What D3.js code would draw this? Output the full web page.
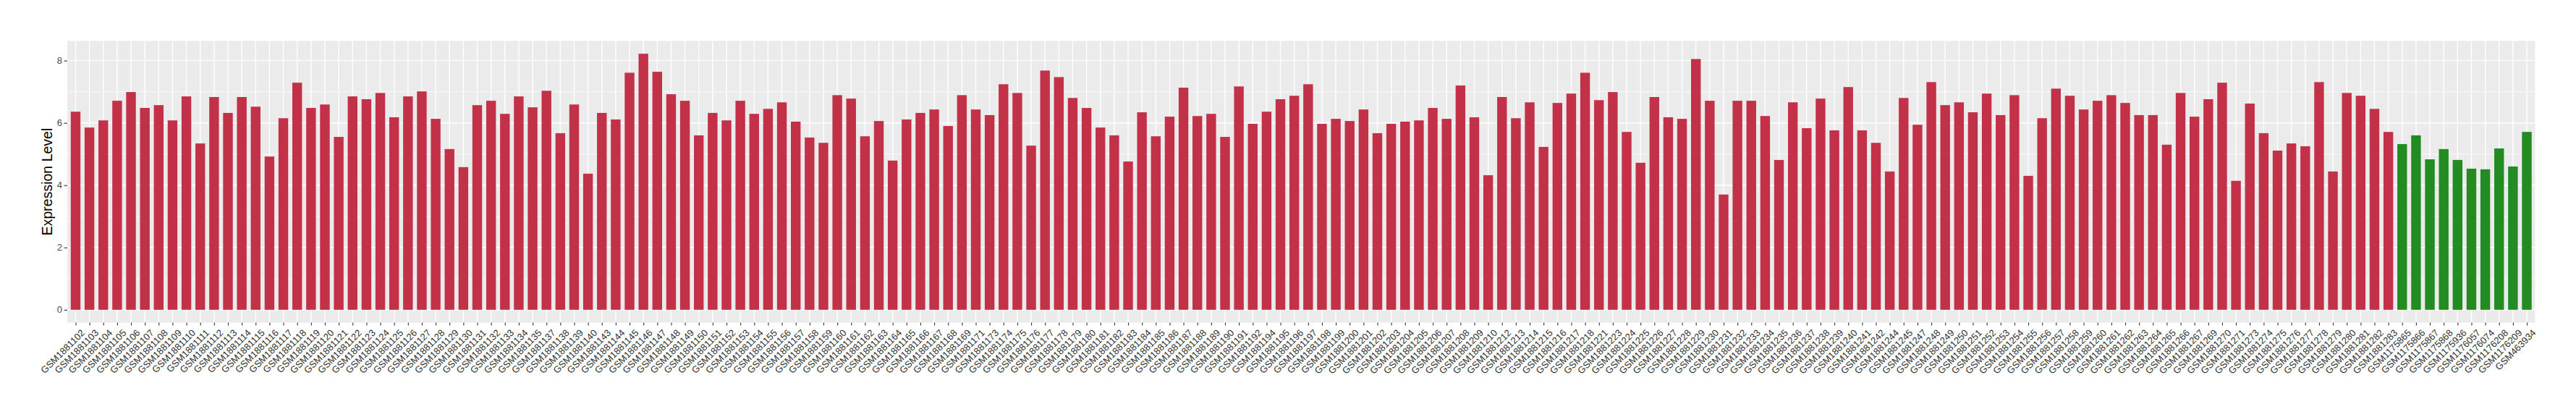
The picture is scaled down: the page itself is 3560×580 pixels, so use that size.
<!DOCTYPE html>
<html>
<head>
<meta charset="utf-8">
<script src="https://cdn.jsdelivr.net/npm/d3@7/dist/d3.min.js"></script>
<style>
  html, body { margin: 0; padding: 0; background: #ffffff; }
  svg { display: block; }
  text { font-family: "Liberation Sans", Arial, Helvetica, sans-serif; }
</style>
</head>
<body>
<svg id="chart" width="3560" height="580"></svg>
<script>
// ---------- data ----------
const redSamples = [
  "GSM1881102","GSM1881103","GSM1881104","GSM1881105","GSM1881106","GSM1881107","GSM1881108","GSM1881109","GSM1881110","GSM1881111",
  "GSM1881112","GSM1881113","GSM1881114","GSM1881115","GSM1881116","GSM1881117","GSM1881118","GSM1881119","GSM1881120","GSM1881121",
  "GSM1881122","GSM1881123","GSM1881124","GSM1881125","GSM1881126","GSM1881127","GSM1881128","GSM1881129","GSM1881130","GSM1881131",
  "GSM1881132","GSM1881133","GSM1881134","GSM1881135","GSM1881137","GSM1881138","GSM1881139","GSM1881140","GSM1881143","GSM1881144",
  "GSM1881145","GSM1881146","GSM1881147","GSM1881148","GSM1881149","GSM1881150","GSM1881151","GSM1881152","GSM1881153","GSM1881154",
  "GSM1881155","GSM1881156","GSM1881157","GSM1881158","GSM1881159","GSM1881160","GSM1881161","GSM1881162","GSM1881163","GSM1881164",
  "GSM1881165","GSM1881166","GSM1881167","GSM1881168","GSM1881169","GSM1881171","GSM1881173","GSM1881174","GSM1881175","GSM1881176",
  "GSM1881177","GSM1881178","GSM1881179","GSM1881180","GSM1881181","GSM1881182","GSM1881183","GSM1881184","GSM1881185","GSM1881186",
  "GSM1881187","GSM1881188","GSM1881189","GSM1881190","GSM1881191","GSM1881192","GSM1881194","GSM1881195","GSM1881196","GSM1881197",
  "GSM1881198","GSM1881199","GSM1881200","GSM1881201","GSM1881202","GSM1881203","GSM1881204","GSM1881205","GSM1881206","GSM1881207",
  "GSM1881208","GSM1881209","GSM1881210","GSM1881212","GSM1881213","GSM1881214","GSM1881215","GSM1881216","GSM1881217","GSM1881218",
  "GSM1881221","GSM1881223","GSM1881224","GSM1881225","GSM1881226","GSM1881227","GSM1881228","GSM1881229","GSM1881230","GSM1881231",
  "GSM1881232","GSM1881233","GSM1881234","GSM1881235","GSM1881236","GSM1881237","GSM1881238","GSM1881239","GSM1881240","GSM1881241",
  "GSM1881242","GSM1881244","GSM1881245","GSM1881247","GSM1881248","GSM1881249","GSM1881250","GSM1881251","GSM1881252","GSM1881253",
  "GSM1881254","GSM1881255","GSM1881256","GSM1881257","GSM1881258","GSM1881259","GSM1881260","GSM1881261","GSM1881262","GSM1881263",
  "GSM1881264","GSM1881265","GSM1881266","GSM1881267","GSM1881269","GSM1881270","GSM1881271","GSM1881273","GSM1881274","GSM1881275",
  "GSM1881276","GSM1881277","GSM1881278","GSM1881279","GSM1881280","GSM1881281","GSM1881282","GSM1881283"
];
const redValues = [
  6.36, 5.85, 6.08, 6.71, 6.99, 6.48, 6.57, 6.08, 6.85, 5.34,
  6.83, 6.32, 6.83, 6.52, 4.92, 6.15, 7.29, 6.48, 6.59, 5.55,
  6.85, 6.76, 6.96, 6.18, 6.85, 7.01, 6.13, 5.16, 4.58, 6.57,
  6.71, 6.29, 6.85, 6.50, 7.03, 5.67, 6.59, 4.37, 6.32, 6.11,
  7.61, 8.22, 7.64, 6.92, 6.71,
  5.60, 6.32, 6.08, 6.71, 6.29, 6.45, 6.66, 6.04, 5.53, 5.36,
  6.89, 6.78, 5.57, 6.06, 4.79, 6.11, 6.32, 6.43, 5.90, 6.89,
  6.43, 6.25, 7.24, 6.96, 5.27, 7.68, 7.47, 6.80, 6.48, 5.85,
  5.60, 4.76, 6.34, 5.57, 6.20, 7.13, 6.22, 6.29, 5.55, 7.17,
  5.97, 6.36, 6.76, 6.87,
  7.24, 5.97, 6.13, 6.06, 6.43, 5.67, 5.97, 6.04, 6.08, 6.48,
  6.13, 7.20, 6.18, 4.32, 6.83, 6.15, 6.66, 5.23, 6.64, 6.94,
  7.61, 6.73, 6.99, 5.71, 4.72, 6.83, 6.18, 6.13, 8.05, 6.71,
  3.70, 6.71, 6.71, 6.22, 4.81, 6.66, 5.83, 6.78, 5.76, 7.15,
  5.76, 5.36, 4.44, 6.80,
  5.94, 7.31, 6.57, 6.66, 6.34, 6.94, 6.25, 6.89, 4.30, 6.15,
  7.10, 6.87, 6.43, 6.71, 6.89, 6.64, 6.25, 6.25, 5.30, 6.96,
  6.20, 6.76, 7.29, 4.14, 6.62, 5.67, 5.11, 5.34, 5.25, 7.31,
  4.44, 6.96, 6.87, 6.45, 5.71
];
const greenSamples = [
  "GSM1175865","GSM1175866","GSM1175867","GSM1175868","GSM1175936",
  "GSM1176057","GSM1176074","GSM1176208","GSM1176209","GSM463934"
];
const greenValues = [5.32, 5.60, 4.83, 5.16, 4.81, 4.53, 4.51, 5.18, 4.60, 5.71];
const yTicks = [0, 2, 4, 6, 8];
const yMinorTicks = [1, 3, 5, 7];
const groupColors = { red: "#C33149", green: "#228B22" };

// ---------- build table ----------
const rows = redSamples.map((s, i) => ({ sample: s, value: redValues[i], group: "red" }))
  .concat(greenSamples.map((s, i) => ({ sample: s, value: greenValues[i], group: "green" })));

// ---------- layout ----------
const panel = { left: 93, right: 3503.5, top: 56.5, bottom: 445.5 };
const svg = d3.select("#chart");
svg.append("rect").attr("width", 3560).attr("height", 580).attr("fill", "#ffffff");

const x = d3.scalePoint()
  .domain(rows.map(d => d.sample))
  .range([panel.left, panel.right])
  .padding(0.6);
const step = x.step();
const barW = step * 0.7;

const maxV = d3.max(rows, d => d.value);
const ext = maxV * 0.05;
const y = d3.scaleLinear()
  .domain([0 - ext, maxV + ext])
  .range([panel.bottom, panel.top]);

// panel background
svg.append("rect")
  .attr("x", panel.left).attr("y", panel.top)
  .attr("width", panel.right - panel.left).attr("height", panel.bottom - panel.top)
  .attr("fill", "#EBEBEB");

// grid
const grid = svg.append("g");
grid.selectAll("line.minor").data(yMinorTicks).enter().append("line")
  .attr("x1", panel.left).attr("x2", panel.right)
  .attr("y1", d => y(d)).attr("y2", d => y(d))
  .attr("stroke", "#ffffff").attr("stroke-width", 0.7);
grid.selectAll("line.majory").data(yTicks).enter().append("line")
  .attr("x1", panel.left).attr("x2", panel.right)
  .attr("y1", d => y(d)).attr("y2", d => y(d))
  .attr("stroke", "#ffffff").attr("stroke-width", 1.4);
grid.selectAll("line.majorx").data(rows).enter().append("line")
  .attr("x1", d => x(d.sample)).attr("x2", d => x(d.sample))
  .attr("y1", panel.top).attr("y2", panel.bottom)
  .attr("stroke", "#ffffff").attr("stroke-width", 1.4);

// bars
svg.append("g").selectAll("rect").data(rows).enter().append("rect")
  .attr("x", d => x(d.sample) - barW / 2)
  .attr("width", barW)
  .attr("y", d => y(d.value))
  .attr("height", d => y(0) - y(d.value))
  .attr("fill", d => groupColors[d.group]);

// y axis
const yAxis = d3.axisLeft(y).tickValues(yTicks).tickSize(4.5).tickPadding(2.5);
const gy = svg.append("g").attr("transform", `translate(${panel.left},0)`).call(yAxis);
gy.select(".domain").remove();
gy.selectAll(".tick line").attr("stroke", "#333333").attr("stroke-width", 1.1);
gy.selectAll(".tick text").attr("fill", "#4D4D4D").style("font-size", "13px")
  .style("font-family", "'Liberation Sans', Arial, sans-serif");

// x axis
const xAxis = d3.axisBottom(x).tickSize(4).tickPadding(0);
const gx = svg.append("g").attr("transform", `translate(0,${panel.bottom})`).call(xAxis);
gx.select(".domain").remove();
gx.selectAll(".tick line").attr("stroke", "#333333").attr("stroke-width", 1.1);
gx.selectAll(".tick text")
  .attr("fill", "#333333")
  .style("font-size", "13px")
  .style("font-family", "'Liberation Sans', Arial, sans-serif")
  .attr("text-anchor", "end")
  .attr("y", 0)
  .attr("dy", "0.75em")
  .attr("transform", "translate(6,8) rotate(-45)");

// y title
svg.append("text")
  .attr("transform", `translate(65,${(panel.top + panel.bottom) / 2}) rotate(-90)`)
  .attr("text-anchor", "middle")
  .attr("dominant-baseline", "central")
  .attr("fill", "#000000")
  .style("font-size", "19.5px")
  .text("Expression Level");
</script>
</body>
</html>
